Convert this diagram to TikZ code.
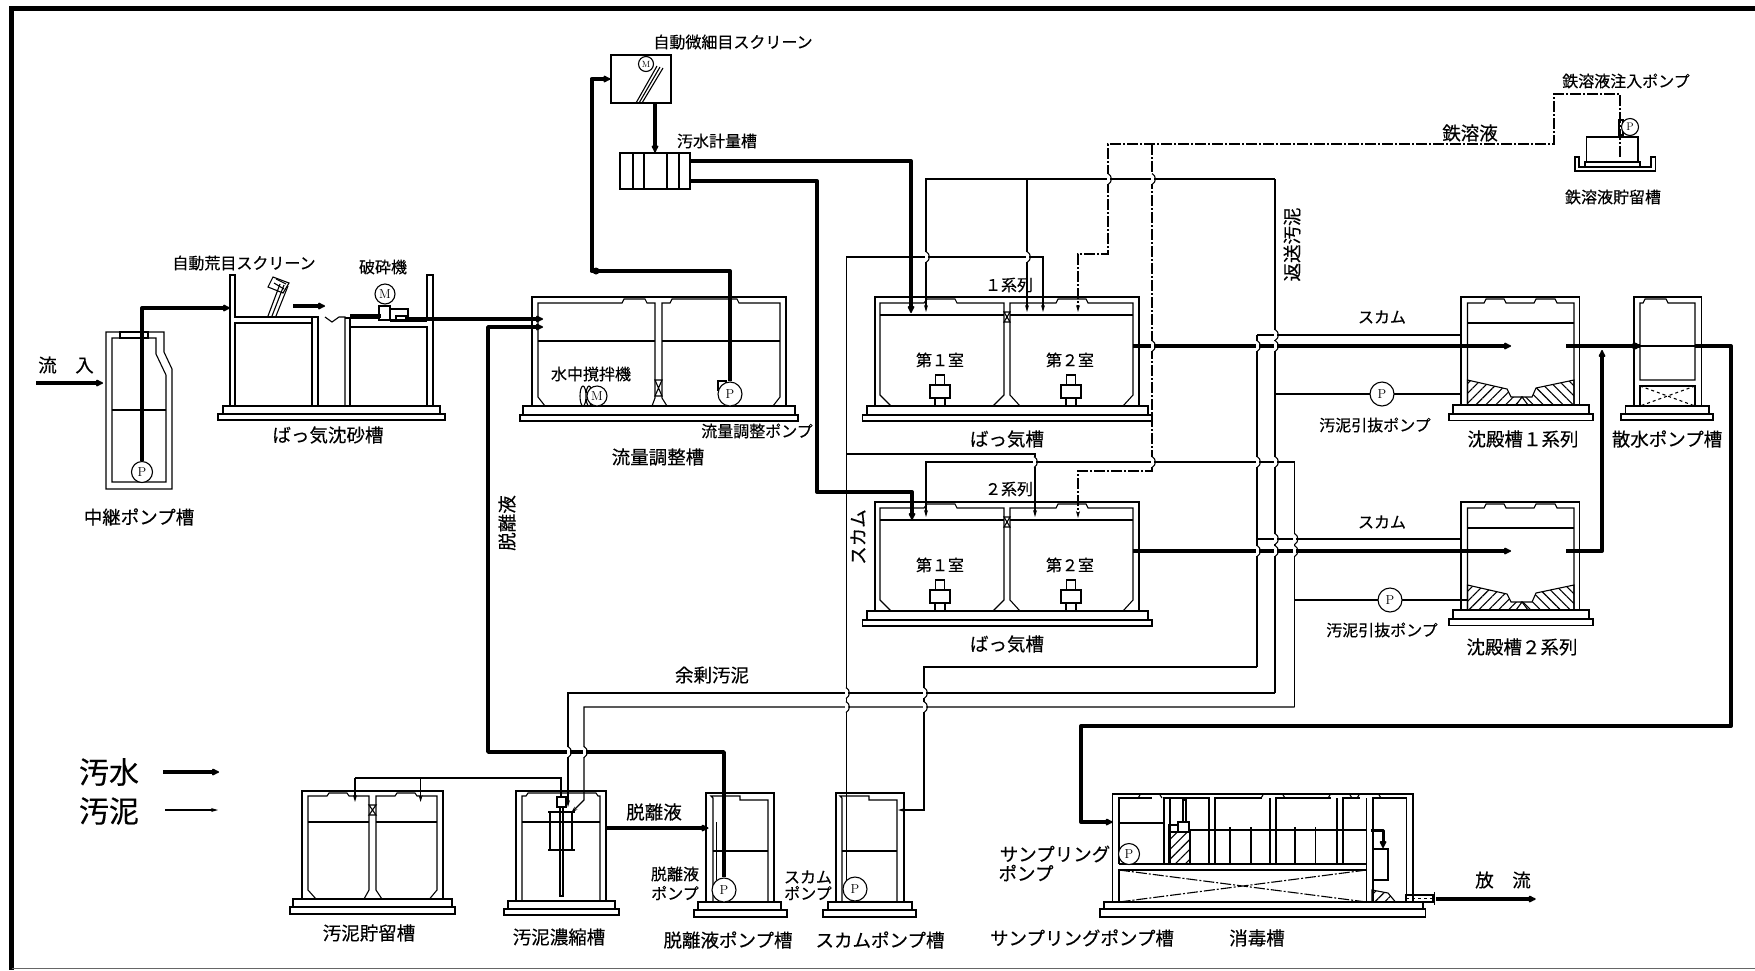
\documentclass[tikz,border=0pt]{standalone}
\usepackage{fontspec}
\newfontfamily\jpfont[FakeBold=0.35]{Noto Sans CJK JP}
\usetikzlibrary{arrows.meta,patterns.meta}
\begin{document}
\begin{tikzpicture}[x=1pt,y=-1pt,line width=1.1pt,
          every node/.style={font=\jpfont\fontsize{16}{18}\selectfont,inner sep=0pt},
          biglabel/.style={font=\jpfont\fontsize{18.5}{20}\selectfont},
          sewage/.style={line width=4pt,line join=round,-{Latex[length=9pt,width=8.5pt,round]}},
          sewageplain/.style={line width=4pt,line join=round},
          sludge/.style={line width=1.1pt,-{Stealth[length=7pt,width=4pt]}},
          sludgeplain/.style={line width=1.1pt},
          ironline/.style={line width=1.1pt,dash pattern=on 11pt off 2pt on 2pt off 2pt},
          pump/.style={draw,circle,fill=white,minimum size=21pt,font=\rmfamily\fontsize{13}{14}\selectfont},
          motor/.style={draw,circle,fill=white,minimum size=20pt,font=\rmfamily\fontsize{13}{14}\selectfont},
          hop/.pic={\fill[white] (-1.5,-5) rectangle (1.5,5);
                    \draw (0,-5.5) .. controls (4.5,-3) and (4.5,3) .. (0,5.5);},
          aerator/.pic={\draw (-4.5,78) rectangle (4.5,88);
                        \draw (-10,88) rectangle (10,101);
                        \draw (-5,101) rectangle (5,109);},
          aertank/.pic={\draw (0,109)--(0,0)--(264,0)--(264,109);
                     \draw (5,98)--(5,6)--(49,6)--(52,2)--(80,2)--(82,6)--(129,6)--(129,98)--(118,109)--(16,109)--cycle;
                     \draw (135,98)--(135,6)--(181,6)--(183,2)--(211,2)--(213,6)--(258,6)--(258,98)--(248,109)--(145,109)--cycle;
                     \draw[line width=1.3pt] (5,18)--(129,18) (135,18)--(258,18);
                     \draw (129,15)--(135,25)--(129,25)--(135,15)--cycle;
                     \pic at (65,0) {aerator}; \pic at (196,0) {aerator};
                     \draw (-8,109) rectangle (273,118);
                     \draw (-12.5,118) rectangle (277,124);},
          settler/.pic={\draw (0,108)--(0,0)--(118.5,0)--(118.5,108);
                     \draw (6.5,108)--(6.5,6)--(23,6)--(25,2)--(43,2)--(45,6)--(73,6)--(75,2)--(94,2)--(96,6)--(113,6)--(113,108)--cycle;
                     \draw (6.5,26)--(113,26);
                     \draw[pattern={Lines[angle=45,distance=7pt,line width=1.1pt]}] (6.5,83)--(46,92)--(50,100)--(61,100)--(55,108)--(6.5,108)--cycle;
                     \draw[pattern={Lines[angle=-45,distance=7pt,line width=1.1pt]}] (113,83)--(75,91)--(71,100)--(61,100)--(67,108)--(113,108)--cycle;
                     \draw (-8,108) rectangle (128,117);
                     \draw (-12,117) rectangle (132,123.5);}]
        \useasboundingbox (0,0) rectangle (1755,970);
        % frame
        \draw[line width=4.6pt] (1755,8.5) -- (11.5,8.5) -- (11.5,970);
        \draw[line width=1pt,black!60] (11.5,968.5) -- (1755,968.5);
        % relay pump tank
        \draw (106,332)--(164,332)--(164,352)--(172,369)--(172,489)--(106,489)--cycle;
        \draw (112,338)--(156,338)--(156,354)--(166,375)--(166,482)--(112,482)--cycle;
        \draw (112,410)--(166,410);
        \draw (120,332) rectangle (148,338);
        \node[pump] (relaypump) at (142,472) {P};
        % grit tank
        \draw (230,406)--(230,275)--(235,275)--(235,317)--(318,317)--(318,406);
        \draw (427,318)--(427,275)--(433,275)--(433,406);
        \draw (235,323) rectangle (312,406);
        \draw (312,323)--(312,317);
        \draw (318,406)--(345,406)--(345,317)--(339,317)--(332,322)--(325,317);
        \draw (350,327) rectangle (427,406);
        \draw (345,318)--(350,318)--(350,327);
        \draw (348,318)--(380,318) (390,321)--(427,321);
        \draw (223,406) rectangle (440,414);
        \draw (218,414) rectangle (445,420);
        % coarse screen
        \draw (268,316)--(280,284) (272,316)--(284,285) (276,316)--(288,286);
        \draw (273,277)--(289,283)--(283,293)--(268,287)--cycle;
        \draw (276,279)--(286,284) (274,283)--(284,289);
        % crusher
        \node[motor] (crushmotor) at (385,294) {M};
        \draw (379,306) rectangle (390,320);
        \draw (390,309) rectangle (408,320);
        \draw (crushmotor) -- (crushmotor |- 0,306);
        \draw (396,316) rectangle (406,320);
        % flow tank
        \draw (532,406)--(532,297)--(786,297)--(786,406);
        \draw (538,397)--(538,303)--(622,303)--(624,299)--(645,299)--(647,303)--(655,303)--(655,398)--(652,406)--(545,406)--cycle;
        \draw (662,303)--(670,303)--(672,299)--(737,299)--(739,303)--(780,303)--(780,397)--(773,406)--(667,406)--(662,398)--cycle;
        \draw (538,341)--(655,341) (662,341)--(780,341);
        \draw (655,380)--(662,396)--(655,396)--(662,380)--cycle;
        \draw (523,406) rectangle (795,415);
        \draw (520,415) rectangle (798,421);
        \draw (583,396) ellipse (3 and 10) (589,396) ellipse (3 and 10);
        \node[motor] (mixmotor) at (597,396) {M};
        \draw (718,381) rectangle (726,390);
        \node[pump,minimum size=24pt] (flowpump) at (730,394) {P};
        % fine screen and meter
        \node[draw,minimum width=60pt,minimum height=48pt] (finebox) at (641,79) {};
        \node[motor,minimum size=15pt,font=\rmfamily\fontsize{9}{10}\selectfont] (finemotor) at (646,64) {M};
        \draw (636,103)--(657,66) (639,103)--(660,67) (642,103)--(663,68);
        \node[draw,minimum width=70pt,minimum height=36pt] (meter) at (655,171) {};
        \foreach \xdiv in {633,644,667,679} \draw (\xdiv,153)--(\xdiv,189);
        % aeration tanks
        \pic at (875,297) {aertank};
        \pic at (875,502) {aertank};
        % settlers
        \pic at (1461,297) {settler};
        \pic at (1461,502) {settler};
        % watering pump tank
        \draw (1634,406)--(1634,297)--(1701.5,297)--(1701.5,406);
        \draw (1640,380)--(1640,303)--(1643,303)--(1645,299)--(1666,299)--(1668,303)--(1695,303)--(1695,380)--cycle;
        \draw (1640,346)--(1695,346);
        \draw (1640,386) rectangle (1695,406);
        \draw[dashed] (1640,386)--(1695,406) (1695,386)--(1640,406);
        \draw (1625.5,406) rectangle (1709,414);
        \draw (1621,414) rectangle (1713,420);
        % iron tank
        \draw (1575,157)--(1575,171)--(1655.5,171)--(1655.5,157)--(1651,157)--(1651,167)--(1579,167)--(1579,157)--cycle;
        \draw (1586.6,137) rectangle (1638,162);
        \draw (1585,162) rectangle (1640,167);
        \draw (1619,120) rectangle (1623,135);
        \node[pump,minimum size=17pt,font=\rmfamily\fontsize{11}{12}\selectfont] (ironpump) at (1630,127) {P};
        % sludge storage
        \draw (302,899)--(302,791)--(443,791)--(443,899);
        \draw (308,890)--(308,796)--(327,796)--(329,793)--(347,793)--(349,796)--(369,796)--(369,890)--(364,899)--(316,899)--cycle;
        \draw (376,890)--(376,796)--(395,796)--(397,793)--(415,793)--(417,796)--(437,796)--(437,890)--(429.5,899)--(382,899)--cycle;
        \draw (308,822)--(369,822) (376,822)--(437,822);
        \draw (369,805)--(376,815)--(369,815)--(376,805)--cycle;
        \draw (293,899) rectangle (452,907);
        \draw (290,907) rectangle (455,914);
        % thickener
        \draw (516,901)--(516,791)--(606,791)--(606,901);
        \draw (522,901)--(522,796)--(526,796)--(528,793)--(596,793)--(598,796)--(600,796)--(600,901)--cycle;
        \draw (522,822)--(600,822);
        \draw (508,901) rectangle (615,909);
        \draw (504,909) rectangle (619,915);
        \draw (557,797) rectangle (566,807);
        \draw (560,807) rectangle (563,896);
        \draw (550,812)--(550,850) (572,812)--(572,850) (548,812)--(575,812) (548,850)--(575,850);
        % dehydrate pump tank
        \draw (706,902)--(706,793)--(774,793)--(774,902);
        \draw (713,902)--(713,798)--(711,796)--(740,796)--(740,800)--(768,800)--(768,902)--cycle;
        \draw (713,851)--(768,851);
        \draw (716.6,822)--(716.6,880);
        \draw (698,902) rectangle (781,910);
        \draw (694,910) rectangle (787,917);
        \node[pump,minimum size=24pt] (dehypump) at (724,890) {P};
        % scum pump tank
        \draw (836,902)--(836,793)--(904,793)--(904,902);
        \draw (842,902)--(842,798)--(840,796)--(869,796)--(869,800)--(897,800)--(897,902)--cycle;
        \draw (842,851)--(897,851);
        \draw (828,902) rectangle (912,910);
        \draw (823,910) rectangle (916,917);
        \node[pump,minimum size=24pt] (scumpump) at (855,889) {P};
        % disinfection tank
        \draw (1112.7,902)--(1112.7,794)--(1413,794)--(1413,902);
        \draw[line width=1.4pt] (1112.7,794)--(1413,794);
        \draw (1119,864)--(1119,798)--(1152,798) (1164,864)--(1164,798)--(1170,798)--(1209,798)--(1209,864);
        \draw (1119,864)--(1366.5,864) (1119,823)--(1164,823);
        \draw (1170,864)--(1170,798) (1215,864)--(1215,798)--(1262,798) (1270,864)--(1270,798) (1276,864)--(1276,798)--(1331,798);
        \draw (1337,864)--(1337,798) (1343,864)--(1343,798)--(1360,798) (1366.5,902)--(1366.5,798) (1373,902)--(1373,798)--(1406.5,798)--(1406.5,902);
        \foreach \xcap in {1150,1273,1340,1369} \draw (\xcap-12,798)--(\xcap-10,795) (\xcap+12,798)--(\xcap+10,795);
        \draw (1190,830)--(1366.5,830);
        \foreach \xbaf in {1230,1251,1295,1315.5} \draw[line width=1.3pt] (\xbaf,827)--(\xbaf,864);
        \draw[pattern={Lines[angle=45,distance=7pt,line width=1.1pt]}] (1169,832) rectangle (1190,864);
        \draw (1178,822) rectangle (1189,832);
        \draw (1183,800) rectangle (1186,822);
        \draw (1169,825) rectangle (1178,832);
        \draw (1119,870) rectangle (1366.5,902);
        \draw[ironline] (1119,870)--(1366.5,902) (1366.5,870)--(1119,902);
        \draw (1373,849) rectangle (1388,880);
        \draw[pattern={Lines[angle=45,distance=7pt,line width=1.1pt]}] (1372,890)--(1388,893)--(1395.5,902)--(1372,902)--cycle;
        \draw (1372,902)--(1413,902);
        \draw (1104,902) rectangle (1423,909);
        \draw (1100,909) rectangle (1425.5,917);
        \draw (1406,895) rectangle (1433,902);
        \draw[dashed,line width=0.6pt] (1406,898.5)--(1433,898.5);
        \draw (1434.6,892)--(1434.6,905);
        \node[pump] (samplepump) at (1129,854) {P};
        % sludge lines, verticals first
        \coordinate (ret1a) at (926,312); \coordinate (ret1b) at (1027,312);
        \coordinate (ret2a) at (926,517);
        \coordinate (scum1) at (1043,312); \coordinate (scum2) at (1035,517);
        \coordinate (scumdrop) at (898,810);
        \coordinate (sedout1) at (1461,394); \coordinate (sedout2) at (1468,600);
        \coordinate (storA) at (355,802); \coordinate (storB) at (420.6,802);
        \coordinate (thickA) at (568,807); \coordinate (thickB) at (571,813);
        \draw[sludge] (1275,179) -- (926,179) -- (ret1a);
        \draw[sludge] (1027,179) -- (ret1b);
        \draw[sludge] (846,257) -- (1043,257) -- (scum1);
        \draw[sludgeplain] (scumpump.north west) -- (scumpump.north west |- 0,257);
        \draw[sludge] (846,454) -- (1035,454) -- (scum2);
        \draw[sludge] (1294.5,462) -- (926,462) -- (ret2a);
        \draw[sludgeplain] (1275,179) -- (1275,693);
        \draw[sludgeplain] (1257,335) -- (1257,667);
        \draw[sludgeplain] (1294.5,462) -- (1294.5,707);
        \draw[sludgeplain] (1461,335) -- (1257,335);
        \draw[sludgeplain] (1461,539) -- (1257,539);
        \draw[sludge] (1257,667) -- (924,667) -- (924,810) -- (scumdrop);
        \draw[sludge] (1275,693) -- (568,693) -- (thickA);
        \draw[sludge] (1294.5,707) -- (584,707) -- (584,800) -- (thickB);
        \draw[sludgeplain] (1275,394) -- (sedout1);
        \draw[sludgeplain] (1294.5,600) -- (sedout2);
        \node[pump,minimum size=24pt] (sedpump1) at (1382,394) {P};
        \node[pump,minimum size=24pt] (sedpump2) at (1390,600) {P};
        \draw[sludgeplain] (561,797) -- (561,778) -- (355,778);
        \draw[sludge] (355,778) -- (storA);
        \draw[sludge] (420.6,778) -- (storB);
        % iron solution
        \coordinate (iron1) at (1078,312); \coordinate (iron2) at (1078,518);
        \draw[ironline,-{Stealth[length=7pt,width=4pt]}] (1620,157) -- (1620,94) -- (1554,94) -- (1554,144) -- (1108,144) -- (1108,254) -- (1078,254) -- (iron1);
        \draw[ironline,-{Stealth[length=7pt,width=4pt]}] (1152,144) -- (1152,471) -- (1078,471) -- (iron2);
        % sewage lines
        \coordinate (inflow) at (36,383); \coordinate (tankin) at (103,383);
        \coordinate (gritin) at (230,308);
        \draw[sewage] (inflow) -- (tankin);
        \draw[sewage] (relaypump) -- (142,308) -- (gritin);
        \draw[sewage] (293,306) -- (325,306);
        \coordinate (crushin) at (350,316);
        \draw[sewageplain,line width=3.5pt] (crushin) -- (381,316);
        \coordinate (flowin1) at (543,319); \coordinate (flowin2) at (543,327);
        \draw[sewage,line width=3.5pt] (408,319) -- (flowin1);
        \draw[sewage,line width=3.5pt] (dehypump) -- (724,752) -- (488,752) -- (488,327) -- (flowin2);
        \draw[sewage] (flowpump) -- (730,271) -- (591.5,271) -- (591.5,79) -- (finebox.west);
        \fill (596,271) circle (3.5);
        \draw[sewage] (meter.north |- finebox.south) -- (meter.north);
        \coordinate (aer1in) at (911,313); \coordinate (aer2in) at (912,520);
        \draw[sewage] (meter.east |- 0,161) -- (911,161) -- (aer1in);
        \draw[sewage] (meter.east |- 0,181) -- (817,181) -- (817,492) -- (912,492) -- (aer2in);
        \coordinate (sed1in) at (1511,346); \coordinate (sed2in) at (1511,551);
        \draw[sewage] (1132.6,346) -- (sed1in);
        \draw[sewage] (1132.6,551) -- (sed2in);
        \draw[sewage] (1566,551) -- (1602,551) -- (1602,350);
        \draw[sewageplain] (1566,346) -- (1640,346);
        \fill (1635,346) circle (3.5);
        \draw[sewage] (1695,346) -- (1731,346) -- (1731,726) -- (1081,726) -- (1081,822) -- (1112.7,822);
        \draw[sewage,line width=3pt] (1370.5,830) -- (1383,830) -- (1383,848);
        \coordinate (outfall) at (1535.7,899);
        \draw[sewage] (1436,899) -- (outfall);
        \draw[sewage] (605,828) -- (708.5,828);
        \draw[sewage] (163,772) -- (219,772);
        \draw[sludge] (165,810) -- (218,810);
        % crossings
        \foreach \xh/\yh in {1108/179,1152/179,926/257,1027/257,1152/346,1257/346,1275/346,1275/335,
                             1034/462,1152/462,1257/462,1275/462,1275/539,1294.5/539,1257/551,1275/551,1294.5/551,
                             846/693,924/693,846/707,924/707,568/752,584/752}
          \pic at (\xh,\yh) {hop};
        % labels
        \node[biglabel] (lblinflow) at (66,365) {流\quad 入};
        \node[biglabel] (lblrelay) at (139,517) {中継ポンプ槽};
        \node (lblcoarse) at (244,263) {自動荒目スクリーン};
        \node (lblcrush) at (383,267) {破砕機};
        \node[biglabel] (lblgrit) at (328,435) {ばっ気沈砂槽};
        \node[biglabel,rotate=90] (lbldehyv) at (507,523) {脱離液};
        \node (lblfine) at (733,42) {自動微細目スクリーン};
        \node (lblmeter) at (717,141) {汚水計量槽};
        \node (lblmixer) at (591,374) {水中撹拌機};
        \node (lblflowpump) at (757,431) {流量調整ポンプ};
        \node[biglabel] (lblflow) at (658,457) {流量調整槽};
        \node (lblone) at (1009,285) {１系列};
        \node (lblroom1) at (940,360) {第１室};
        \node (lblroom2) at (1070,360) {第２室};
        \node[biglabel] (lblaer1) at (1007,439) {ばっ気槽};
        \node (lbltwo) at (1009,489) {２系列};
        \node (lblroom3) at (940,565) {第１室};
        \node (lblroom4) at (1070,565) {第２室};
        \node[biglabel] (lblaer2) at (1007,644) {ばっ気槽};
        \node[biglabel,rotate=90] (lblscumv) at (858,537) {スカム};
        \node[biglabel,rotate=90] (lblreturn) at (1292,244.5) {返送汚泥};
        \node[biglabel] (lbliron) at (1470,133) {鉄溶液};
        \node (lblironpump) at (1626,81) {鉄溶液注入ポンプ};
        \node (lblirontank) at (1613,197) {鉄溶液貯留槽};
        \node (lblscum1) at (1382,317) {スカム};
        \node (lblscum2) at (1382,522) {スカム};
        \node (lbldraw1) at (1375,425) {汚泥引抜ポンプ};
        \node (lbldraw2) at (1382,630) {汚泥引抜ポンプ};
        \node[biglabel] (lblsed1) at (1523,439) {沈殿槽１系列};
        \node[biglabel] (lblsed2) at (1522,647) {沈殿槽２系列};
        \node[biglabel] (lblwater) at (1667,439) {散水ポンプ槽};
        \node[biglabel] (lblsurplus) at (712,675) {余剰汚泥};
        \node[biglabel] (lbldehy) at (654,812) {脱離液};
        \node (lbldehyp1) at (675,874) {脱離液};
        \node (lbldehyp2) at (675,893) {ポンプ};
        \node (lblscump1) at (808,877) {スカム};
        \node (lblscump2) at (808,893) {ポンプ};
        \node[biglabel] (lblstore) at (369,933) {汚泥貯留槽};
        \node[biglabel] (lblthick) at (559,937) {汚泥濃縮槽};
        \node[biglabel] (lbldehyt) at (728,940) {脱離液ポンプ槽};
        \node[biglabel] (lblscumt) at (880,940) {スカムポンプ槽};
        \node[biglabel] (lblsamp1) at (1055,854) {サンプリング};
        \node[biglabel] (lblsamp2) at (1026,873) {ポンプ};
        \node[biglabel] (lblsampt) at (1082,938) {サンプリングポンプ槽};
        \node[biglabel] (lbldisinf) at (1257,938) {消毒槽};
        \node[biglabel] (lblout) at (1503,880) {放\quad 流};
        \node[font=\jpfont\fontsize{30}{32}\selectfont] (legsewage) at (109,772) {汚水};
        \node[font=\jpfont\fontsize{30}{32}\selectfont] (legsludge) at (109,811) {汚泥};
      \end{tikzpicture}
\end{document}
